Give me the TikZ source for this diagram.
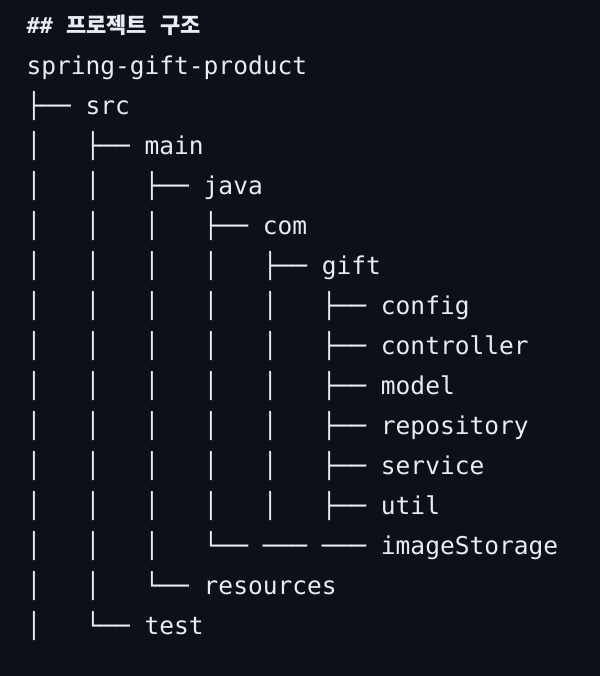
\documentclass[tikz,border=0pt]{standalone}
\usepackage{fontspec}
\newfontfamily\treefont{DejaVu Sans Mono}
\newfontfamily\krfont{Noto Sans CJK KR}
\definecolor{pagebg}{RGB}{13,17,23}
\definecolor{treetext}{RGB}{230,237,243}
\tikzset{every picture/.style={line width=0.75pt}}
\tikzset{treeline/.style={anchor=base west,inner sep=0pt,text=treetext,font=\treefont\fontsize{18.4}{22}\selectfont}}

\begin{document}
\begin{tikzpicture}[x=0.75pt,y=0.75pt,yscale=-1,xscale=1]
%set diagram left start at 0, and has height of 676
\fill [pagebg] (0,0) rectangle (600,676) ;
\useasboundingbox (0,0) rectangle (600,676) ;

% Text Node
\draw (26,33) node (title) [anchor=base west][inner sep=0pt][text=treetext]    {\fontsize{16.5}{20}\selectfont{\treefont\bfseries\#\#~}{\krfont\bfseries 프로젝트}{\treefont~}{\krfont\bfseries 구조}};
% Text Node
\draw (26,74) node (root) [treeline]    {spring-gift-product};
% Text Node
\draw (26,114) node (src) [treeline]    {├──~src};
% Text Node
\draw (26,154) node (main) [treeline]    {│~~~├──~main};
% Text Node
\draw (26,194) node (java) [treeline]    {│~~~│~~~├──~java};
% Text Node
\draw (26,234) node (com) [treeline]    {│~~~│~~~│~~~├──~com};
% Text Node
\draw (26,274) node (gift) [treeline]    {│~~~│~~~│~~~│~~~├──~gift};
% Text Node
\draw (26,314) node (config) [treeline]    {│~~~│~~~│~~~│~~~│~~~├──~config};
% Text Node
\draw (26,354) node (controller) [treeline]    {│~~~│~~~│~~~│~~~│~~~├──~controller};
% Text Node
\draw (26,394) node (model) [treeline]    {│~~~│~~~│~~~│~~~│~~~├──~model};
% Text Node
\draw (26,434) node (repository) [treeline]    {│~~~│~~~│~~~│~~~│~~~├──~repository};
% Text Node
\draw (26,474) node (service) [treeline]    {│~~~│~~~│~~~│~~~│~~~├──~service};
% Text Node
\draw (26,514) node (util) [treeline]    {│~~~│~~~│~~~│~~~│~~~├──~util};
% Text Node
\draw (26,554) node (imageStorage) [treeline]    {│~~~│~~~│~~~└──~───~───~imageStorage};
% Text Node
\draw (26,594) node (resources) [treeline]    {│~~~│~~~└──~resources};
% Text Node
\draw (26,634) node (test) [treeline]    {│~~~└──~test};

\end{tikzpicture}
\end{document}
